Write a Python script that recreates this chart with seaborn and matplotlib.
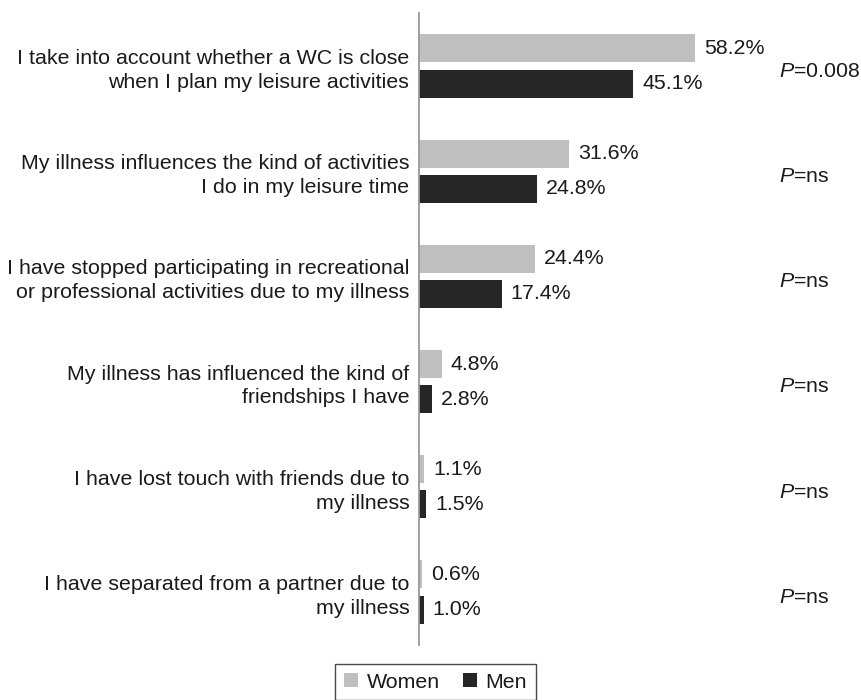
import matplotlib
matplotlib.use("Agg")
import matplotlib.pyplot as plt
import matplotlib.transforms as mtransforms
from matplotlib.patches import Patch
import seaborn as sns
import pandas as pd

categories = [
    "I take into account whether a WC is close\nwhen I plan my leisure activities",
    "My illness influences the kind of activities\nI do in my leisure time",
    "I have stopped participating in recreational\nor professional activities due to my illness",
    "My illness has influenced the kind of\nfriendships I have",
    "I have lost touch with friends due to\nmy illness",
    "I have separated from a partner due to\nmy illness",
]
women = [58.2, 31.6, 24.4, 4.8, 1.1, 0.6]
men = [45.1, 24.8, 17.4, 2.8, 1.5, 1.0]
p_values = ["0.008", "ns", "ns", "ns", "ns", "ns"]
groups = ["Women", "Men"]
colors = ["#bfbfbf", "#262626"]

sns.set_theme(style="white")
plt.rcParams["font.family"] = ["Liberation Sans", "DejaVu Sans"]
plt.rcParams["mathtext.fontset"] = "custom"
plt.rcParams["mathtext.rm"] = "Liberation Sans"
plt.rcParams["mathtext.it"] = "Liberation Sans:italic"

FS = 15.4
TC = "#1a1a1a"

df = pd.DataFrame({
    "category": categories * 2,
    "value": women + men,
    "group": ["Women"] * len(categories) + ["Men"] * len(categories),
})

W, H = 861, 700
fig = plt.figure(figsize=(W / 100, H / 100), dpi=100)
left_px, top_px, bottom_px = 419, 13.4, 644.6
xmax = 70
px_per_unit = 4.745
ax = fig.add_axes([left_px / W, 1 - bottom_px / H, xmax * px_per_unit / W, (bottom_px - top_px) / H])

sns.barplot(data=df, y="category", x="value", hue="group", hue_order=groups,
            palette=colors, orient="h", width=0.667, gap=0.2, ax=ax,
            order=categories, legend=False, saturation=1, linewidth=0)

ax.set_xlim(0, xmax)
ax.set_ylim(len(categories) - 0.5, -0.5)
ax.set_xlabel("")
ax.set_ylabel("")
ax.set_xticks([])
for s in ["top", "right", "bottom"]:
    ax.spines[s].set_visible(False)
ax.spines["left"].set_color("#999999")
ax.spines["left"].set_linewidth(1.3)
ax.tick_params(axis="y", length=0, pad=7, labelsize=FS, labelcolor=TC)
for lbl in ax.get_yticklabels():
    lbl.set_multialignment("right")
    lbl.set_linespacing(1.32)

for cont in ax.containers:
    ax.bar_label(cont, fmt="%.1f%%", padding=6.5, fontsize=FS, color=TC)

trans = mtransforms.blended_transform_factory(fig.transFigure, ax.transData)
for i, p in enumerate(p_values):
    ax.text(779 / W, i + 0.05, r"$\mathit{P}$=" + p, transform=trans,
            ha="left", va="center", fontsize=FS, color=TC, clip_on=False)

handles = [Patch(facecolor=c, edgecolor="none") for c in colors]
leg = fig.legend(handles, groups, loc="center", bbox_to_anchor=(435.5 / W, 1 - 682 / H),
                 ncol=2, frameon=True, fancybox=False, fontsize=FS,
                 handlelength=0.65, handleheight=0.65, handletextpad=0.4,
                 columnspacing=1.1, borderpad=0.4, borderaxespad=0)
leg.get_frame().set_edgecolor(TC)
leg.get_frame().set_linewidth(1.0)
for t in leg.get_texts():
    t.set_color(TC)

fig.savefig("out.png", dpi=100, facecolor="white")
